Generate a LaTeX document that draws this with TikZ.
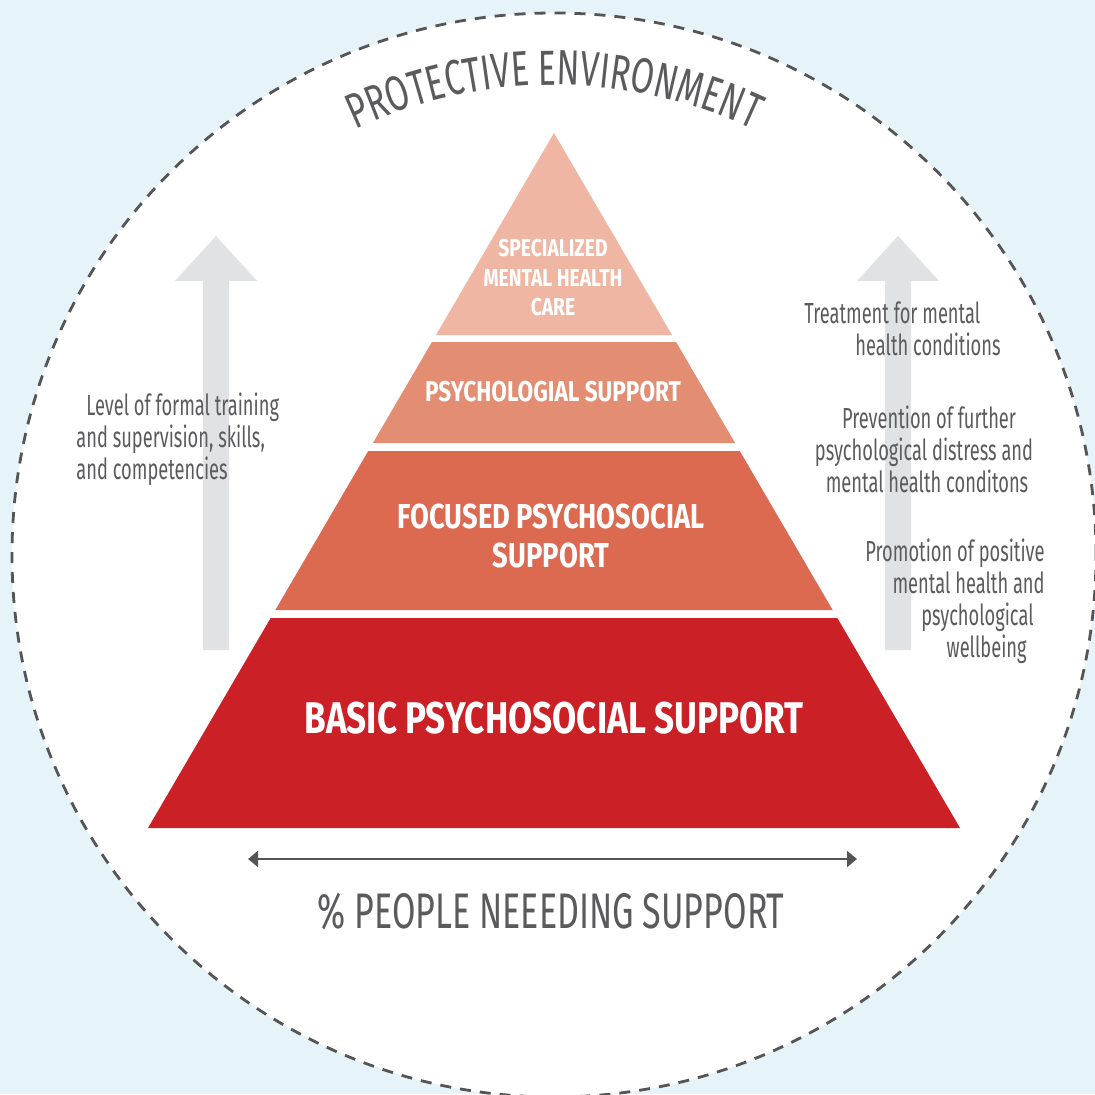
\documentclass[tikz,border=0pt]{standalone}
\usepackage{fontspec}
\setmainfont{Fira Sans}[FakeStretch=0.63]
\newfontfamily\titlefont{Fira Sans}[FakeStretch=0.68]
\newfontfamily\tierfont{Fira Sans}[FakeStretch=0.79]
\usepackage{xcolor}
\usepackage{tikz}
\usetikzlibrary{arrows.meta,decorations.text}
\definecolor{bgblue}{HTML}{E6F4F9}
\definecolor{dashgrey}{HTML}{555555}
\definecolor{txtgrey}{HTML}{5B5B5D}
\definecolor{arrowgrey}{HTML}{E1E2E4}
\definecolor{tierA}{HTML}{EFB7A3}
\definecolor{tierB}{HTML}{E38E73}
\definecolor{tierC}{HTML}{DC6A51}
\definecolor{tierD}{HTML}{CC2027}
\newcommand{\fsz}[2]{\fontsize{#1}{#2}\selectfont}

\begin{document}
\begin{tikzpicture}[x=0.5pt,y=0.5pt,
  tierlabel/.style={text=white,align=center,inner sep=0pt},
  sidetext/.style={text=txtgrey,font=\fsz{14.5}{16},inner sep=0pt}]
\def\cx{554};
\def\cy{539};
\def\rr{542};
\def\apy{961}; %apex of pyramid%
\def\slope{0.5842};
\useasboundingbox (0,0) rectangle (1095,1094);
\coordinate (C) at (\cx,\cy);
\coordinate (apex) at (\cx,\apy);

\fill[bgblue] (0,0) rectangle (1095,1094); %background%
\draw[fill=white,draw=dashgrey,line width=1.4pt,dash pattern=on 5.5pt off 4.5pt] (C) circle (\rr); %protective environment%

% curved title
\path[decorate,decoration={text along path,text align=center,
  text={|\titlefont\fsz{24.7}{28}\color{txtgrey}|PROTECTIVE ENVIRONMENT}}]
  (C) ++(120:470) arc[start angle=120,end angle=60,radius=470];

% grey arrows
\foreach \ax in {216,898}
  \fill[arrowgrey] ({\ax-13},444) -- ({\ax-13},813) -- ({\ax-41},813) -- (\ax,858)
    -- ({\ax+41},813) -- ({\ax+13},813) -- ({\ax+13},444) -- cycle;

% pyramid
\fill[tierA] (apex) -- ({\cx+(\apy-759)*\slope},759) -- ({\cx-(\apy-759)*\slope},759) -- cycle;
\foreach \ya/\yb/\col in {752/651/tierB, 643/484/tierC, 476/266/tierD}
  \fill[\col] ({\cx-(\apy-\ya)*\slope},\ya) -- ({\cx+(\apy-\ya)*\slope},\ya)
    -- ({\cx+(\apy-\yb)*\slope},\yb) -- ({\cx-(\apy-\yb)*\slope},\yb) -- cycle;

\node[tierlabel,font=\tierfont\bfseries\fsz{12.2}{14.75}] (spec) at (553,816) {SPECIALIZED\\MENTAL HEALTH\\CARE};
\node[tierlabel,font=\tierfont\bfseries\fsz{14.3}{18}] (psych) at (553,702) {PSYCHOLOGIAL SUPPORT};
\node[tierlabel,font=\tierfont\bfseries\fsz{17.3}{19.5}] (focus) at (551,558) {FOCUSED PSYCHOSOCIAL\\SUPPORT};
\node[tierlabel,font=\tierfont\bfseries\fsz{22.2}{26}] (basic) at (554,376) {BASIC PSYCHOSOCIAL SUPPORT};

% side texts
\node[sidetext,anchor=west,align=left] (level) at (76,655) {\hspace*{5pt}Level of formal training\\and supervision, skills,\\and competencies};
\node[sidetext,anchor=west,align=left] (treat) at (804,765) {Treatment for mental\\\hspace*{25.5pt}health conditions};
\node[sidetext,align=center] (prev) at (924,645) {\kern5pt Prevention of further\\psychological distress and\\mental health conditons\kern-3pt};
\node[sidetext,anchor=east,align=right] (promo) at (1045,493) {Promotion of positive\\mental health and\\psychological\kern5.5pt\\wellbeing\hspace*{9pt}};

% people needing support
\coordinate (wl) at (248,235);
\coordinate (wr) at (857,235);
\draw[{Triangle[length=5pt,width=8pt]}-{Triangle[length=5pt,width=8pt]},line width=1pt,draw=dashgrey,fill=dashgrey] (wl) -- (wr);
\node[text=txtgrey,font=\titlefont\fsz{25}{30}] (need) at (551,183) {\% PEOPLE NEEEDING SUPPORT};
\end{tikzpicture}
\end{document}
